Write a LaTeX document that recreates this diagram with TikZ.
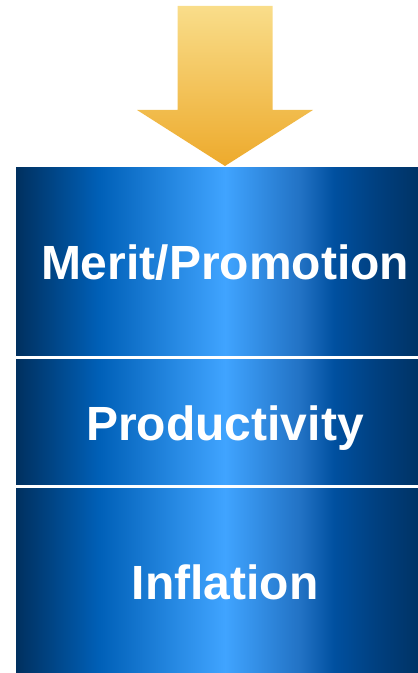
\documentclass[tikz,border=0pt]{standalone}
\usepackage{fontspec}
\setmainfont{Liberation Sans}
\definecolor{navyA}{HTML}{00305F}
\definecolor{blueB}{HTML}{0060B8}
\definecolor{lightC}{HTML}{40A4FF}
\definecolor{midC}{HTML}{2272C4}
\definecolor{blueD}{HTML}{0050A0}
\definecolor{blueF}{HTML}{004080}
\definecolor{navyE}{HTML}{003366}
\definecolor{goldTop}{HTML}{F9DD8A}
\definecolor{goldBot}{HTML}{EDAA2C}
\pgfdeclarehorizontalshading{barshade}{100bp}{
  color(0bp)=(navyA);
  color(25bp)=(navyA);
  color(35bp)=(blueB);
  color(50bp)=(lightC);
  color(59bp)=(midC);
  color(63bp)=(blueD);
  color(68bp)=(blueF);
  color(73bp)=(navyE);
  color(100bp)=(navyE)}
\tikzset{
  bar/.style={shading=barshade, draw=none},
  lbl/.style={text=white, font=\bfseries\fontsize{48}{48}\selectfont, anchor=base, inner sep=0pt},
  arrowfill/.style={top color=goldTop, bottom color=goldBot, draw=none}
}
\begin{document}
\begin{tikzpicture}[x=1pt,y=1pt]
\useasboundingbox (0,0) rectangle (418,673);
\begin{scope}
\clip (0,0) rectangle (418,673);
\shade[bar] (16,673-168) rectangle (434,673-356);
\shade[bar] (16,673-360) rectangle (434,673-485);
\shade[bar] (16,673-489) rectangle (434,-2);
\end{scope}
\shade[arrowfill] (177.5,673-6) -- (272.5,673-6) -- (272.5,673-110) -- (313,673-110)
  -- (225,673-166) -- (137,673-110) -- (177.5,673-110) -- cycle;
\node[lbl] (merit) at (225,673-280) {Merit/Promotion};
\node[lbl] (prod) at (225,673-441) {Productivity};
\node[lbl] (infl) at (225,673-600) {Inflation};
\end{tikzpicture}
\end{document}
